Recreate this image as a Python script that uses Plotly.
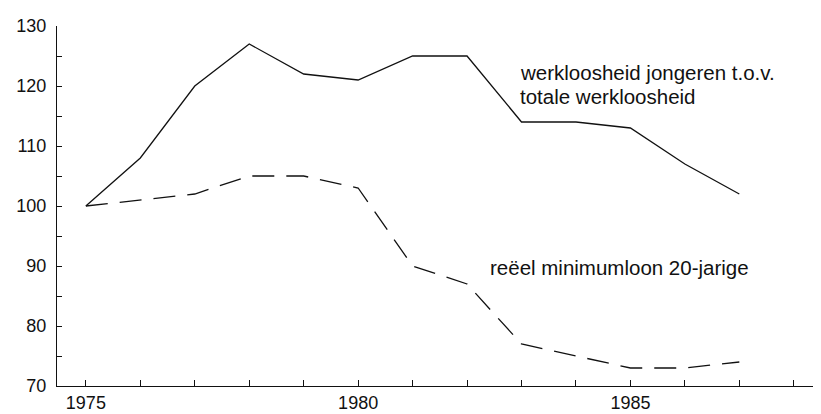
import plotly.graph_objects as go

years = list(range(1975, 1988))
werkloosheid = [100, 108, 120, 127, 122, 121, 125, 125, 114, 114, 113, 107, 102]
minimumloon = [100, 101, 102, 105, 105, 103, 90, 87, 77, 75, 73, 73, 74]

x_tickvals = list(range(1975, 1989))
x_ticktext = ["1975", "", "", "", "", "1980", "", "", "", "", "1985", "", "", ""]
y_tickvals = list(range(70, 131, 5))
y_ticktext = ["70", "", "80", "", "90", "", "100", "", "110", "", "120", "", "130"]

label_solid = ["werkloosheid jongeren t.o.v.", "totale werkloosheid"]
label_dash = "reëel minimumloon 20-jarige"

FONT = "Liberation Sans, Arial, sans-serif"
INK = "#111111"

fig = go.Figure()
fig.add_trace(go.Scatter(x=years, y=werkloosheid, mode="lines",
                         line=dict(color=INK, width=1.3), showlegend=False))
fig.add_trace(go.Scatter(x=years, y=minimumloon, mode="lines",
                         line=dict(color=INK, width=1.3, dash="22px,12px"), showlegend=False))

fig.add_annotation(x=1983.0, y=122.3, text=label_solid[0], showarrow=False, xshift=-4,
                   xanchor="left", yanchor="middle", font=dict(family=FONT, size=20.5, color=INK))
fig.add_annotation(x=1983.0, y=118.3, text=label_solid[1], showarrow=False, xshift=-4,
                   xanchor="left", yanchor="middle", font=dict(family=FONT, size=20.5, color=INK))
fig.add_annotation(x=1982.45, y=89.8, text=label_dash, showarrow=False, xshift=-4,
                   xanchor="left", yanchor="middle", font=dict(family=FONT, size=20.5, color=INK))

fig.update_layout(
    width=821, height=414,
    margin=dict(l=41, r=8, t=12, b=36),
    paper_bgcolor="white", plot_bgcolor="white",
    font=dict(family=FONT, size=18, color=INK),
)
fig.update_xaxes(range=[1974.47, 1988.5], tickvals=x_tickvals, ticktext=x_ticktext,
                 ticks="inside", ticklen=6, tickcolor=INK, tickwidth=1,
                 showline=True, linecolor=INK, linewidth=1.3, showgrid=False, zeroline=False,
                 tickfont=dict(family=FONT, size=18, color=INK))
fig.update_yaxes(range=[70, 130], tickvals=y_tickvals, ticktext=y_ticktext,
                 ticks="inside", ticklen=5, tickcolor=INK, tickwidth=1,
                 showline=True, linecolor=INK, linewidth=1.3, showgrid=False, zeroline=False,
                 ticklabelstandoff=6,
                 tickfont=dict(family=FONT, size=18, color=INK))

fig.write_html("out.html")
